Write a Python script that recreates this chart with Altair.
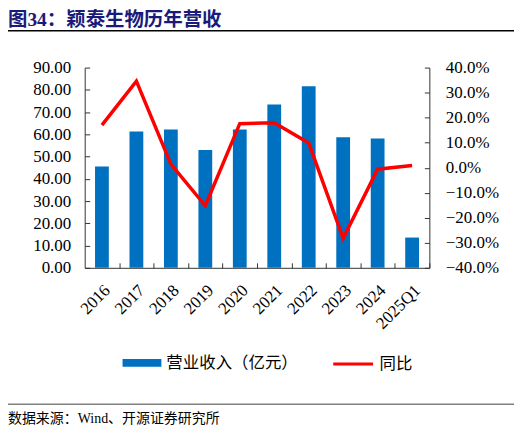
import altair as alt
import pandas as pd

periods = ["2016", "2017", "2018", "2019", "2020", "2021", "2022", "2023", "2024", "2025Q1"]
revenue = [45.5, 61.3, 62.2, 53.0, 62.2, 73.4, 81.6, 58.7, 58.1, 13.6]
yoy = [0.170, 0.346, 0.014, -0.152, 0.176, 0.180, 0.099, -0.282, -0.006, 0.009]
series_names = ["营业收入（亿元）", "同比"]
left_ticks = [0, 10, 20, 30, 40, 50, 60, 70, 80, 90]
right_ticks = [-0.4, -0.3, -0.2, -0.1, 0.0, 0.1, 0.2, 0.3, 0.4]
title_text = "图34：颖泰生物历年营收"
source_text = "数据来源：Wind、开源证券研究所"

FONT = "Liberation Serif, Noto Sans CJK SC"
AXIS_COLOR = "#333333"

df = pd.DataFrame({"period": periods, "revenue": revenue, "yoy": yoy})
base = alt.Chart(df)

x_scale = alt.Scale(paddingInner=0.6, paddingOuter=0.3)

bars = base.transform_calculate(
    series=f"'{series_names[0]}'"
).mark_bar(color="#0070C0").encode(
    x=alt.X(
        "period:N", sort=periods, title=None, scale=x_scale,
        axis=alt.Axis(orient="bottom", ticks=False, tickSize=0, labelAngle=-45, labelPadding=14,
                      labelFont=FONT, labelFontSize=17, labelColor="black",
                      domainColor=AXIS_COLOR, labelOverlap=False),
    ),
    y=alt.Y(
        "revenue:Q", title=None, scale=alt.Scale(domain=[0, 90], nice=False),
        axis=alt.Axis(orient="left", values=left_ticks, format=".2f", ticks=False, tickSize=0,
                      labelPadding=14, labelFont=FONT, labelFontSize=17, labelColor="black",
                      domainColor=AXIS_COLOR),
    ),
    color=alt.Color(
        "series:N", title=None,
        scale=alt.Scale(domain=[series_names[0]], range=["#0070C0"]),
        legend=alt.Legend(orient="none", legendX=38, legendY=277, direction="horizontal",
                          symbolType="M-1,-0.2L1,-0.2L1,0.2L-1,0.2Z", symbolSize=1521,
                          symbolStrokeWidth=0, labelFont=FONT, labelFontSize=16.5,
                          labelColor="black", labelOffset=5, padding=0),
    ),
)

line = base.transform_calculate(
    series=f"'{series_names[1]}'"
).mark_line(strokeWidth=3.5).encode(
    x=alt.X("period:N", sort=periods, axis=None, scale=x_scale),
    y=alt.Y(
        "yoy:Q", title=None, scale=alt.Scale(domain=[-0.4, 0.4], nice=False),
        axis=alt.Axis(orient="right", values=right_ticks, format=".1%", ticks=False, tickSize=0,
                      labelPadding=16, labelFont=FONT, labelFontSize=17, labelColor="black",
                      domainColor=AXIS_COLOR),
    ),
    stroke=alt.Stroke(
        "series:N", title=None,
        scale=alt.Scale(domain=[series_names[1]], range=["#FF0000"]),
        legend=alt.Legend(orient="none", legendX=248, legendY=276, direction="horizontal",
                          symbolType="stroke", symbolSize=1600, symbolStrokeWidth=3,
                          labelFont=FONT, labelFontSize=16.5, labelColor="black",
                          labelOffset=5, padding=0),
    ),
)

# inward tick marks: extra axes pulled into the plot
left_ticks_layer = base.mark_bar(opacity=0).encode(
    x=alt.X(
        "period:N", sort=periods, scale=x_scale,
        axis=alt.Axis(orient="bottom", offset=-5, tickSize=5, tickOffset=17.3, labels=False,
                      domain=False, tickColor=AXIS_COLOR, title=None),
    ),
    y=alt.Y(
        "revenue:Q", scale=alt.Scale(domain=[0, 90], nice=False),
        axis=alt.Axis(orient="left", offset=-5, tickSize=5, values=left_ticks, labels=False,
                      domain=False, tickColor=AXIS_COLOR, title=None),
    ),
)

right_ticks_layer = base.mark_point(opacity=0).encode(
    x=alt.X("period:N", sort=periods, axis=None, scale=x_scale),
    y=alt.Y(
        "yoy:Q", scale=alt.Scale(domain=[-0.4, 0.4], nice=False),
        axis=alt.Axis(orient="right", offset=-5, tickSize=5, values=right_ticks, labels=False,
                      domain=False, tickColor=AXIS_COLOR, title=None),
    ),
)

one = alt.Chart(pd.DataFrame({"title": [title_text], "source": [source_text]}))

title = one.mark_text(align="left", baseline="alphabetic", font=FONT, fontSize=19.5,
                      fontWeight="bold", color="#1a1a7a").encode(
    text="title:N", x=alt.value(-77), y=alt.value(-41.5)
)
top_rule = one.mark_rule(color="black", strokeWidth=1.5).encode(
    x=alt.value(-77), x2=alt.value(431), y=alt.value(-37)
)
bottom_rule = one.mark_rule(color="#808080", strokeWidth=1.5).encode(
    x=alt.value(-77), x2=alt.value(431), y=alt.value(338)
)
source = one.mark_text(align="left", baseline="alphabetic", font=FONT, fontSize=14,
                       color="black").encode(
    text="source:N", x=alt.value(-77), y=alt.value(357)
)

chart = alt.layer(
    bars, line, left_ticks_layer, right_ticks_layer, title, top_rule, bottom_rule, source
).resolve_scale(
    y="independent", color="independent", stroke="independent"
).resolve_axis(
    x="independent"
).properties(
    width=346,
    height=201,
    autosize=alt.AutoSizeParams(type="none"),
    padding={"left": 77, "top": 59, "right": 85, "bottom": 160},
).configure_axis(
    grid=False
).configure_view(
    stroke=None
)

chart.save("out.html", embed_options={"renderer": "svg", "actions": False})
